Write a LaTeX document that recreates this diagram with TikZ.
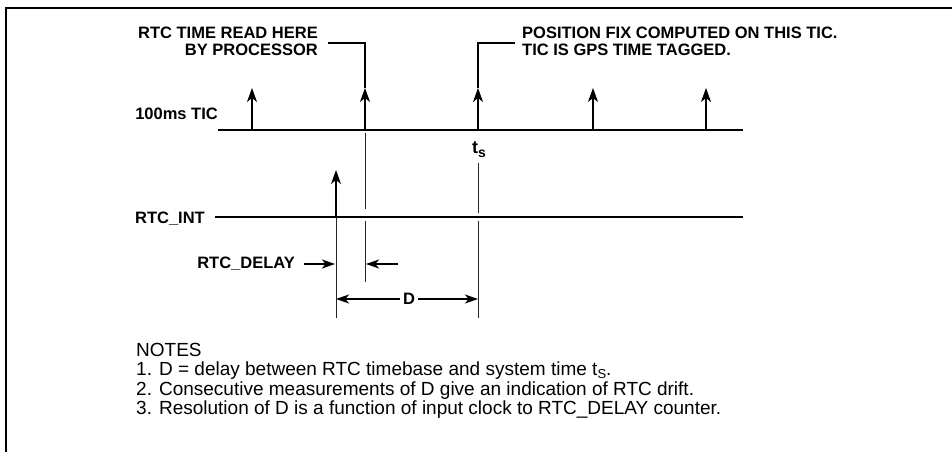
\documentclass[tikz,border=0pt]{standalone}
\usepackage{fontspec}
\setmainfont{Liberation Sans}
\usetikzlibrary{arrows.meta}
\begin{document}
\begin{tikzpicture}[x=1pt,y=-1pt,
  lbl/.style={font=\fontsize{16.5}{19}\selectfont\bfseries, inner sep=0pt},
  note/.style={font=\fontsize{19}{19}\selectfont, inner sep=0pt, anchor=base west},
  sig/.style={line width=1.3pt},
  vline/.style={line width=0.9pt, black!85},
  lead/.style={line width=1.1pt},
  tic/.style={line width=1.2pt, -{Stealth[length=14pt,width=10pt,inset=4pt]}},
  dim/.style={line width=1.2pt, -{Stealth[length=13pt,width=9pt,inset=3.5pt]}},
]
\useasboundingbox (0,0) rectangle (952,452);
\coordinate (fbl) at (6,452);
\coordinate (ftl) at (6,8);
\coordinate (ftr) at (952,8);
\draw[line width=2.2pt] (fbl) -- (ftl) -- (ftr);

% 100ms TIC line
\coordinate (ticL) at (218,130);
\coordinate (ticR) at (743,130);
\draw[sig] (ticL) -- (ticR);
\node[lbl, anchor=base east] (ticlbl) at (218,119) {100ms TIC};
\foreach \i/\x in {1/252,2/365,3/478,4/593,5/706}{
  \coordinate (tb\i) at (\x,130);
  \coordinate (tt\i) at (\x,88);
  \draw[tic] (tb\i) -- (tt\i);
}

% top labels
\node[lbl, anchor=base east] (rtc1) at (318,38) {RTC TIME READ HERE};
\node[lbl, anchor=base east] (rtc2) at (318,56) {BY PROCESSOR};
\coordinate (l1) at (328,43);
\draw[lead] (l1) -| (tt2);
\node[lbl, anchor=base west] (pos1) at (522,38) {POSITION FIX COMPUTED ON THIS TIC.};
\node[lbl, anchor=base west] (pos2) at (522,56) {TIC IS GPS TIME TAGGED.};
\coordinate (l2) at (515,43);
\draw[lead] (l2) -| (tt3);

% t_s
\node[inner sep=0pt, anchor=base, font=\fontsize{18}{18}\selectfont\bfseries] (ts) at (479,153) {t\raisebox{-4pt}{\fontsize{14}{14}\selectfont s}};

% verticals
\coordinate (v1a) at (365,133); \coordinate (v1b) at (365,209);
\coordinate (v1c) at (365,221); \coordinate (v1d) at (365,282);
\draw[vline] (v1a) -- (v1b);
\draw[vline] (v1c) -- (v1d);
\coordinate (v2a) at (478,163); \coordinate (v2b) at (478,213);
\coordinate (v2c) at (478,221); \coordinate (v2d) at (478,318);
\draw[vline] (v2a) -- (v2b);
\draw[vline] (v2c) -- (v2d);

% RTC_INT
\coordinate (intL) at (215,217);
\coordinate (intR) at (743,217);
\draw[sig] (intL) -- (intR);
\node[lbl, anchor=base east] (intlbl) at (205,223) {RTC\_INT};
\coordinate (ib) at (336,217);
\coordinate (it) at (336,170);
\coordinate (ilow) at (336,318);
\draw[tic] (ib) -- (it);
\draw[vline] (ib) -- (ilow);

% RTC_DELAY
\node[lbl, anchor=east] (dly) at (295,264) {RTC\_DELAY};
\coordinate (da1) at (304,264); \coordinate (da2) at (335,264);
\coordinate (db1) at (398,264); \coordinate (db2) at (366,264);
\draw[dim] (da1) -- (da2);
\draw[dim] (db1) -- (db2);

% D
\node[lbl, inner xsep=3pt] (D) at (409,299) {D};
\coordinate (dl) at (336,299); \coordinate (dr) at (478,299);
\draw[dim] (D.west) -- (dl);
\draw[dim] (D.east) -- (dr);

% notes
\node[note] (n0) at (136,356) {NOTES};
\node[note] (n1) at (136,375.5) {1. D = delay between RTC timebase and system time t\raisebox{-3pt}{\fontsize{13}{13}\selectfont S}.};
\node[note] (n2) at (136,395) {2. Consecutive measurements of D give an indication of RTC drift.};
\node[note] (n3) at (136,414.5) {3. Resolution of D is a function of input clock to RTC\_DELAY counter.};
\end{tikzpicture}
\end{document}
